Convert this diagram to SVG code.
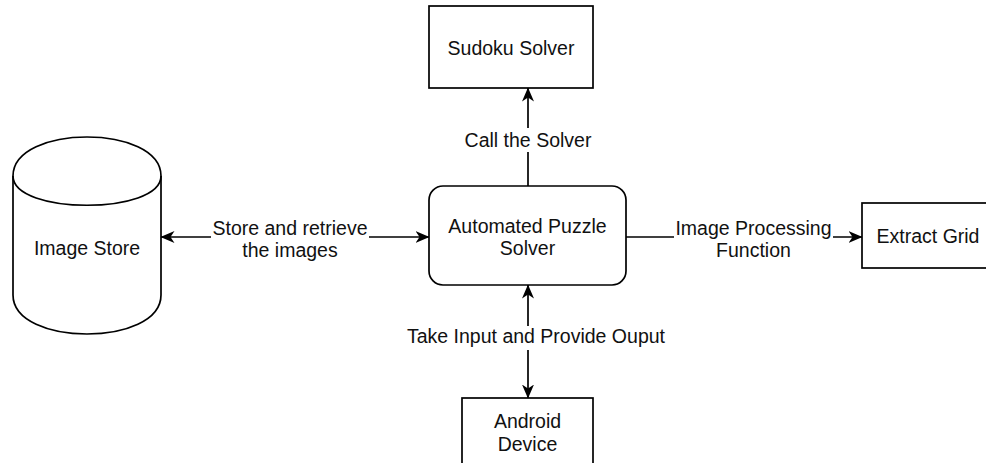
<svg xmlns="http://www.w3.org/2000/svg" width="986" height="463" viewBox="0 0 986 463">
  <defs>
    <marker id="arrow" viewBox="0 0 14 12" refX="13.5" refY="6" markerWidth="14" markerHeight="12" markerUnits="userSpaceOnUse" orient="auto-start-reverse">
      <path d="M0,0 L14,6 L0,12 L4,6 z" fill="#000"/>
    </marker>
  </defs>
  <style>
    .shape { fill: #fff; stroke: #000; stroke-width: 1.7; }
    .edge { fill: none; stroke: #000; stroke-width: 1.7; }
    .lbl { font-family: "Liberation Sans", Arial, sans-serif; font-size: 19.5px; fill: #111; text-anchor: middle; }
    .bg { fill: #fff; stroke: none; }
  </style>
  <rect width="986" height="463" fill="#fff"/>

  <g id="connectors">
    <g id="edge-store">
      <line class="edge" x1="161" y1="237" x2="429" y2="237" marker-start="url(#arrow)" marker-end="url(#arrow)"/>
      <rect class="bg" x="211" y="216" width="158" height="46"/>
      <text class="lbl" x="290" y="235">Store and retrieve</text>
      <text class="lbl" x="290" y="257">the images</text>
    </g>
    <g id="edge-call">
      <line class="edge" x1="528" y1="186" x2="528" y2="88" marker-end="url(#arrow)"/>
      <rect class="bg" x="463" y="128" width="131" height="24"/>
      <text class="lbl" x="528" y="147">Call the Solver</text>
    </g>
    <g id="edge-process">
      <line class="edge" x1="626" y1="237" x2="862" y2="237" marker-end="url(#arrow)"/>
      <rect class="bg" x="674" y="216" width="159" height="46"/>
      <text class="lbl" x="753.5" y="235">Image Processing</text>
      <text class="lbl" x="753.5" y="257">Function</text>
    </g>
    <g id="edge-io">
      <line class="edge" x1="528" y1="285" x2="528" y2="398" marker-start="url(#arrow)" marker-end="url(#arrow)"/>
      <rect class="bg" x="405" y="326" width="262" height="24"/>
      <text class="lbl" x="536" y="343">Take Input and Provide Ouput</text>
    </g>
  </g>

  <g id="image-store">
    <path class="shape" d="M13,176 C13,124 161,124 161,176 L161,295 C161,347 13,347 13,295 Z"/>
    <path class="edge" d="M13,176 C13,215 161,215 161,176"/>
    <text class="lbl" x="87" y="255">Image Store</text>
  </g>

  <g id="automated-puzzle-solver">
    <rect class="shape" x="429" y="186" width="197" height="99" rx="14" ry="14"/>
    <text class="lbl" x="527.5" y="233">Automated Puzzle</text>
    <text class="lbl" x="527.5" y="255">Solver</text>
  </g>

  <g id="sudoku-solver">
    <rect class="shape" x="429" y="6" width="164" height="82"/>
    <text class="lbl" x="511" y="55">Sudoku Solver</text>
  </g>

  <g id="extract-grid">
    <rect class="shape" x="862" y="203" width="132" height="65"/>
    <text class="lbl" x="928" y="243">Extract Grid</text>
  </g>

  <g id="android-device">
    <rect class="shape" x="462" y="398" width="131" height="82"/>
    <text class="lbl" x="527.5" y="428">Android</text>
    <text class="lbl" x="527.5" y="451">Device</text>
  </g>
</svg>
